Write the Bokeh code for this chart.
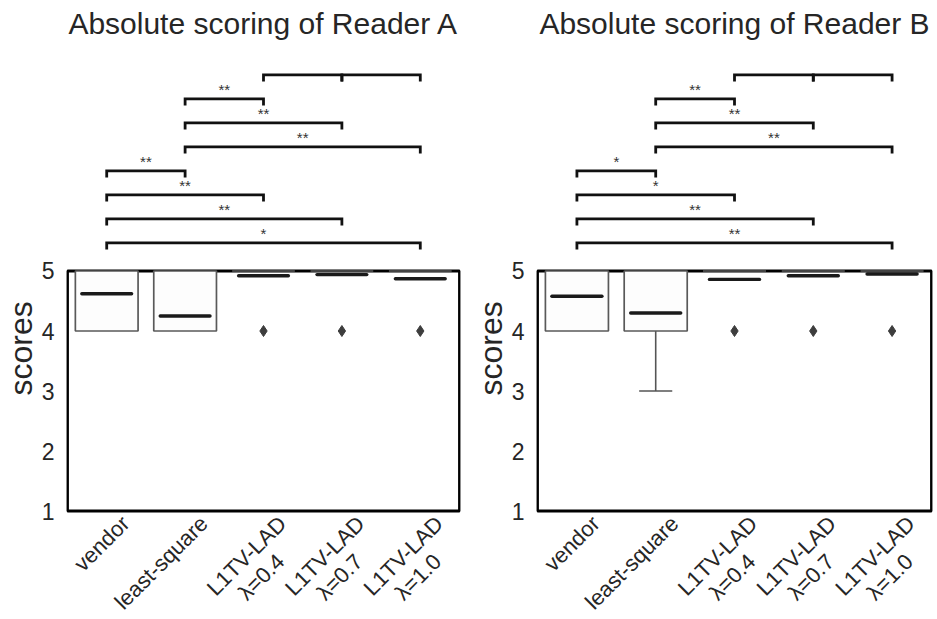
import math
from bokeh.plotting import figure
from bokeh.models import Range1d, FixedTicker, Title
from bokeh.core.properties import value
from bokeh.layouts import row
from bokeh.embed import file_html
from bokeh.resources import INLINE

# ---------------- data ----------------
categories = ["vendor", "least-square", "L1TV-LAD\nλ=0.4", "L1TV-LAD\nλ=0.7", "L1TV-LAD\nλ=1.0"]

# Reader A
a_q1 = [4, 4, 5, 5, 5]
a_q3 = [5, 5, 5, 5, 5]
a_wlo = [4, 4, 5, 5, 5]
a_whi = [5, 5, 5, 5, 5]
a_mean = [4.62, 4.25, 4.92, 4.94, 4.87]
a_out_x = [2, 3, 4]
a_out_y = [4, 4, 4]
a_sig = ["*", "**", "**", "**", "**", "**", "**", "", ""]

# Reader B
b_q1 = [4, 4, 5, 5, 5]
b_q3 = [5, 5, 5, 5, 5]
b_wlo = [4, 3, 5, 5, 5]
b_whi = [5, 5, 5, 5, 5]
b_mean = [4.58, 4.30, 4.86, 4.92, 4.95]
b_out_x = [2, 3, 4]
b_out_y = [4, 4, 4]
b_sig = ["**", "**", "*", "*", "**", "**", "**", "", ""]

# comparison pairs (category indices) and their stacking level
pair_i = [0, 0, 0, 0, 1, 1, 1, 2, 3]
pair_j = [4, 3, 2, 1, 4, 3, 2, 3, 4]
pair_level = [0, 1, 2, 3, 4, 5, 6, 7, 7]

y_ticks = [1, 2, 3, 4, 5]

FONT = "Liberation Sans"
TXT = "#262626"
H = 619
Y_TOP, Y_BOT = 9.508, -0.808   # value range of the drawing area (axes box spans 1..5)
TITLE_Y = 9.13                 # vertical position of the panel title


def make_panel(title, q1, q3, wlo, whi, means, out_x, out_y, sig, width, br):
    n = len(categories)
    pad = 0.013
    p = figure(width=width, height=H,
               x_range=Range1d(-pad, n + pad), y_range=Range1d(Y_BOT, Y_TOP),
               output_backend="svg", toolbar_location=None, x_axis_location=None,
               min_border_left=10, min_border_right=br,
               min_border_top=0, min_border_bottom=0)
    p.outline_line_color = None
    p.xgrid.visible = False
    p.ygrid.visible = False
    p.background_fill_color = "white"
    p.border_fill_color = "white"

    centers = [i + 0.5 for i in range(n)]
    lo, hi = min(y_ticks), max(y_ticks)

    # panel title
    p.text(x=[n / 2], y=[TITLE_Y], text=[title], text_align="center", text_baseline="middle",
           text_font=value(FONT), text_font_size="30px", text_color=TXT)

    # axes box (value range 1..5)
    p.quad(left=[0], right=[n], bottom=[lo], top=[hi],
           fill_color=None, line_color="black", line_width=2.8)

    bw = 0.8
    wc = "#555555"
    # whiskers
    for k in range(n):
        c = centers[k]
        if wlo[k] < q1[k]:
            p.segment(x0=[c], y0=[q1[k]], x1=[c], y1=[wlo[k]], line_color=wc, line_width=1.6)
            p.segment(x0=[c - 0.21], y0=[wlo[k]], x1=[c + 0.21], y1=[wlo[k]], line_color=wc, line_width=1.6)
        if whi[k] > q3[k]:
            p.segment(x0=[c], y0=[q3[k]], x1=[c], y1=[whi[k]], line_color=wc, line_width=1.6)
            p.segment(x0=[c - 0.21], y0=[whi[k]], x1=[c + 0.21], y1=[whi[k]], line_color=wc, line_width=1.6)

    # boxes
    p.quad(left=[c - bw / 2 for c in centers], right=[c + bw / 2 for c in centers],
           bottom=q1, top=q3, fill_color="#fdfdfd", line_color="#595959", line_width=1.7)

    # mean lines
    mw = 0.635
    p.segment(x0=[c - mw / 2 for c in centers], y0=means,
              x1=[c + mw / 2 for c in centers], y1=means,
              line_color="#1a1a1a", line_width=3.4, line_cap="round")

    # outliers
    p.scatter(x=[centers[k] for k in out_x], y=out_y, marker="diamond",
              size=11, fill_color="#3d3d3d", line_color="#3d3d3d", line_width=1)

    # significance brackets
    base, step, tick = 5.47, 0.4, 0.11
    xs, ys, tx, ty, tt = [], [], [], [], []
    for i, j, lev, s in zip(pair_i, pair_j, pair_level, sig):
        y = base + step * lev
        xs.append([centers[i], centers[i], centers[j], centers[j]])
        ys.append([y - tick, y, y, y - tick])
        if s:
            tx.append((centers[i] + centers[j]) / 2)
            ty.append(y)
            tt.append(s)
    p.multi_line(xs=xs, ys=ys, line_color="#111111", line_width=2.8, line_join="miter")
    p.text(x=tx, y=ty, text=tt, y_offset=-9.5, text_font=value(FONT), text_font_size="15px",
           text_color="#333333", text_align="center", text_baseline="middle")

    # category labels, rotated 45 degrees, second line centred under the first
    ang = math.pi / 4
    c45 = math.cos(ang)
    fs = 22
    dx, dy = 10, 0             # anchor of the first line's upper-right corner (px)
    lh = 25.5                  # line height (px)
    w1 = 4.668 * fs            # width of a first line "L1TV-LAD" (px)
    l1x, l1t, l2x, l2t = [], [], [], []
    for c, lab in zip(centers, categories):
        parts = lab.split("\n")
        l1x.append(c)
        l1t.append(parts[0])
        if len(parts) > 1:
            l2x.append(c)
            l2t.append(parts[1])
    p.text(x=l1x, y=[lo] * len(l1x), text=l1t, angle=ang, x_offset=dx, y_offset=dy,
           text_align="right", text_baseline="top", text_font=value(FONT),
           text_font_size=f"{fs}px", text_color=TXT)
    along = w1 / 2 + 4
    ox2 = dx - along * c45 + lh * c45
    oy2 = dy + along * c45 + lh * c45
    p.text(x=l2x, y=[lo] * len(l2x), text=l2t, angle=ang, x_offset=ox2, y_offset=oy2,
           text_align="center", text_baseline="top", text_font=value(FONT),
           text_font_size=f"{fs}px", text_color=TXT)

    # y axis
    p.yaxis.ticker = FixedTicker(ticks=y_ticks)
    p.yaxis.axis_line_color = None
    p.yaxis.major_tick_line_color = None
    p.yaxis.minor_tick_line_color = None
    p.yaxis.major_tick_out = 0
    p.yaxis.major_tick_in = 0
    p.yaxis.major_label_standoff = 12
    p.yaxis.major_label_text_font = FONT
    p.yaxis.major_label_text_font_size = "23px"
    p.yaxis.major_label_text_color = TXT

    ylab = Title(text="scores", align="left", offset=224, standoff=0,
                 text_font=FONT, text_font_size="32px", text_font_style="normal",
                 text_color=TXT)
    p.add_layout(ylab, "left")
    return p


p1 = make_panel("Absolute scoring of Reader A", a_q1, a_q3, a_wlo, a_whi, a_mean,
                a_out_x, a_out_y, a_sig, 470, 10)
p2 = make_panel("Absolute scoring of Reader B", b_q1, b_q3, b_wlo, b_whi, b_mean,
                b_out_x, b_out_y, b_sig, 467, 5)

layout = row(p1, p2)
open("out.html", "w").write(file_html(layout, INLINE))
